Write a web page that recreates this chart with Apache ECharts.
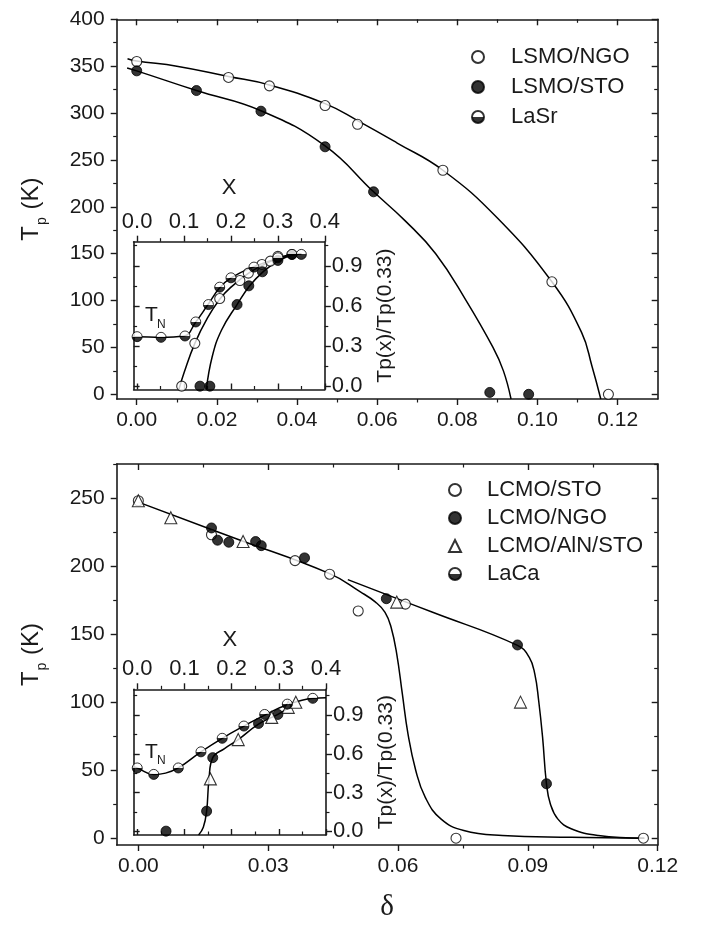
<!DOCTYPE html>
<html><head><meta charset="utf-8">
<script src="https://cdn.jsdelivr.net/npm/echarts@6/dist/echarts.min.js"></script>
<style>html,body{margin:0;padding:0;background:#fff}#c{width:702px;height:925px}</style>
</head><body><div id="c"></div>
<script>
// ---------- TOP PANEL (LSMO) ----------
const lsmoNgoDelta = [0, 0.0229, 0.0331, 0.047, 0.0551, 0.0764, 0.1036, 0.1177];
const lsmoNgoTp    = [355, 338, 329, 308, 288, 239, 120, 0];
const lsmoStoDelta = [0, 0.0149, 0.031, 0.047, 0.0591, 0.0881, 0.0978];
const lsmoStoTp    = [345, 324, 302, 264, 216, 2, 0];
const lsmoNgoFitDelta = [-0.0023, 0, 0.01, 0.0229, 0.0331, 0.047, 0.0551, 0.065, 0.0764, 0.09, 0.1036, 0.111, 0.1136, 0.1158];
const lsmoNgoFitTp    = [358, 355.5, 350, 339, 330, 310, 292, 268, 239, 188, 120, 66, 30, -5];
const lsmoStoFitDelta = [-0.0024, 0, 0.0149, 0.031, 0.047, 0.0591, 0.067, 0.0746, 0.0822, 0.0889, 0.0915, 0.0934];
const lsmoStoFitTp    = [348, 345, 324, 302.5, 265, 216, 185, 150, 100, 50, 25, -5];
// top inset (normalised Tp vs x)
const lasrX = [0, 0.051, 0.102, 0.125, 0.152, 0.176, 0.2, 0.249, 0.3, 0.33, 0.35];
const lasrY = [0.37, 0.365, 0.375, 0.48, 0.61, 0.74, 0.81, 0.89, 0.96, 0.985, 0.985];
const insNgoX = [0.095, 0.123, 0.176, 0.219, 0.237, 0.266, 0.284, 0.30];
const insNgoY = [0, 0.32, 0.655, 0.79, 0.845, 0.91, 0.935, 0.97];
const insStoX = [0.134, 0.155, 0.213, 0.238, 0.267, 0.30, 0.33];
const insStoY = [0, 0, 0.61, 0.75, 0.855, 0.94, 0.985];
const lasrFitX = [-0.01, 0, 0.05, 0.1, 0.125, 0.15, 0.176, 0.2, 0.25, 0.3, 0.35];
const lasrFitY = [0.37, 0.37, 0.365, 0.375, 0.48, 0.605, 0.735, 0.81, 0.895, 0.955, 0.99];
const insNgoFitX = [0.089, 0.1, 0.123, 0.15, 0.176, 0.2, 0.24, 0.28, 0.3, 0.33];
const insNgoFitY = [-0.025, 0.1, 0.32, 0.51, 0.65, 0.74, 0.85, 0.925, 0.96, 0.985];
const insStoFitX = [0.1475, 0.16, 0.18, 0.213, 0.24, 0.27, 0.3, 0.33, 0.35];
const insStoFitY = [-0.025, 0.22, 0.42, 0.61, 0.75, 0.86, 0.935, 0.98, 0.99];

// ---------- BOTTOM PANEL (LCMO) ----------
const lcmoStoDelta = [0, 0.0169, 0.0362, 0.0442, 0.0508, 0.0617, 0.0734, 0.1167];
const lcmoStoTp    = [248, 223, 204, 194, 167, 172, 0, 0];
const lcmoNgoDelta = [0.0169, 0.0183, 0.0209, 0.0271, 0.0284, 0.0384, 0.0573, 0.0876, 0.0943];
const lcmoNgoTp    = [228, 219, 217.5, 218, 215, 206, 176, 142, 40];
const lcmoAlnDelta = [0, 0.0075, 0.0242, 0.0597, 0.0883];
const lcmoAlnTp    = [248, 235.5, 218, 173.5, 100];
const fitADelta = [0, 0.022, 0.0442, 0.0513, 0.0548, 0.057, 0.0584, 0.0597, 0.061, 0.0623, 0.0641, 0.0663, 0.0699, 0.0752, 0.0841, 0.1, 0.1169];
const fitATp    = [247, 220.8, 194.4, 181, 173.5, 166, 155, 135.5, 106, 76.7, 49.8, 30, 14.2, 5.6, 2, 0.7, 0];
const fitBDelta = [0.0484, 0.068, 0.0876, 0.0903, 0.0916, 0.0925, 0.0934, 0.0943, 0.0952, 0.0969, 0.1, 0.1063, 0.1169];
const fitBTp    = [190, 166, 141.7, 133, 120.8, 101, 74.3, 40, 25.2, 14.2, 6.9, 2, 0];
// bottom inset
const lacaX = [0, 0.035, 0.087, 0.135, 0.18, 0.226, 0.27, 0.318, 0.372];
const lacaY = [0.49, 0.44, 0.49, 0.615, 0.72, 0.815, 0.905, 0.985, 1.03];
const insNgo2X = [0.061, 0.147, 0.16, 0.257, 0.298];
const insNgo2Y = [0, 0.155, 0.57, 0.835, 0.905];
const insAlnX = [0.155, 0.214, 0.285, 0.32, 0.336];
const insAlnY = [0.405, 0.71, 0.882, 0.96, 1.0];
const lacaFitX = [-0.01, 0, 0.035, 0.06, 0.087, 0.135, 0.18, 0.226, 0.27, 0.318, 0.372, 0.4];
const lacaFitY = [0.5, 0.49, 0.44, 0.45, 0.49, 0.615, 0.72, 0.815, 0.9, 0.98, 1.03, 1.035];
const insNgo2FitX = [0.13, 0.14, 0.147, 0.152, 0.16, 0.185, 0.214, 0.257, 0.3, 0.33];
const insNgo2FitY = [-0.03, 0.03, 0.155, 0.4, 0.57, 0.64, 0.71, 0.83, 0.91, 0.98];

// ---------- tick labels ----------
const topMainXTicks = [0, 0.02, 0.04, 0.06, 0.08, 0.10, 0.12];
const topMainXMinor = [0.01, 0.03, 0.05, 0.07, 0.09, 0.11];
const topMainYTicks = [0, 50, 100, 150, 200, 250, 300, 350, 400];
const topMainYMinor = [25, 75, 125, 175, 225, 275, 325, 375];
const botMainXTicks = [0, 0.03, 0.06, 0.09, 0.12];
const botMainXMinor = [0.015, 0.045, 0.075, 0.105];
const botMainYTicks = [0, 50, 100, 150, 200, 250];
const botMainYMinor = [25, 75, 125, 175, 225, 275];
const insetXTicks = [0, 0.1, 0.2, 0.3, 0.4];
const insetXMinor = [0.05, 0.15, 0.25, 0.35];
const insetYTicks = [0, 0.3, 0.6, 0.9];
const insetYMinor = [0.15, 0.45, 0.75, 1.05];

const FONT = '"Liberation Sans", Arial, Helvetica, sans-serif';
const INK = '#1a1a1a';
const zip = (a, b) => a.map((v, i) => [v, b[i]]);

const xAxes = [], yAxes = [];
function addAxes(arr, gi, min, max, pos, opp, major, minor, inLab, inOpp, label, extra) {
  const base = {type: 'value', gridIndex: gi, min: min, max: max, splitLine: {show: false}};
  const idx = arr.length;
  arr.push(Object.assign({}, base, {
    position: pos,
    axisLine: {show: true, onZero: false, lineStyle: {color: INK, width: 1.6}},
    axisTick: {show: true, inside: inLab, length: 6, customValues: major, lineStyle: {color: INK, width: 1.4}},
    axisLabel: Object.assign({show: true, customValues: major, color: INK, fontFamily: FONT}, label)
  }, extra || {}));
  arr.push(Object.assign({}, base, {
    position: pos, axisLine: {show: false, onZero: false},
    axisTick: {show: true, inside: inLab, length: 3.5, customValues: minor, lineStyle: {color: INK, width: 1.2}},
    axisLabel: {show: false}
  }));
  arr.push(Object.assign({}, base, {
    position: opp, axisLine: {show: true, onZero: false, lineStyle: {color: INK, width: 1.6}},
    axisTick: {show: true, inside: inOpp, length: 6, customValues: major, lineStyle: {color: INK, width: 1.4}},
    axisLabel: {show: false}
  }));
  arr.push(Object.assign({}, base, {
    position: opp, axisLine: {show: false, onZero: false},
    axisTick: {show: true, inside: inOpp, length: 3.5, customValues: minor, lineStyle: {color: INK, width: 1.2}},
    axisLabel: {show: false}
  }));
  return idx;
}

const grids = [
  {left: 116.7, top: 19.3, width: 541, height: 379.7},
  {left: 133.6, top: 241.7, width: 191.2, height: 147.8, show: true, backgroundColor: '#fff', borderWidth: 0},
  {left: 116.7, top: 464, width: 541, height: 381},
  {left: 133.7, top: 689.3, width: 192.3, height: 145.7, show: true, backgroundColor: '#fff', borderWidth: 0}
];

const tpName = {
  nameLocation: 'middle', nameRotate: 90, nameGap: 68,
  name: '{t|T}{s|p}{t| (K)}',
  nameTextStyle: {color: INK, fontFamily: FONT,
    rich: {t: {fontSize: 24, fontFamily: FONT, color: INK, lineHeight: 34, verticalAlign: 'middle'},
           s: {fontSize: 14, fontFamily: FONT, color: INK, lineHeight: 34, verticalAlign: 'bottom', padding: [0, 1, 0, 1]}}}
};
const ratioName = {
  nameLocation: 'middle', nameRotate: 90, nameGap: 50, name: 'Tp(x)/Tp(0.33)',
  nameTextStyle: {color: INK, fontFamily: FONT, fontSize: 21}
};

// grid 0
const gx0 = addAxes(xAxes, 0, -0.005, 0.13, 'bottom', 'top', topMainXTicks, topMainXMinor, false, true,
  {fontSize: 21, margin: 11, formatter: v => v.toFixed(2)});
const gy0 = addAxes(yAxes, 0, -5, 400, 'left', 'right', topMainYTicks, topMainYMinor, false, true,
  {fontSize: 21, margin: 12, formatter: v => String(Math.round(v))}, tpName);
// grid 1 (inset)
const gx1 = addAxes(xAxes, 1, -0.0075, 0.4, 'top', 'bottom', insetXTicks, insetXMinor, false, true,
  {fontSize: 22, margin: 9, formatter: v => v.toFixed(1)},
  {name: 'X', nameLocation: 'middle', nameGap: 43, nameTextStyle: {color: INK, fontFamily: FONT, fontSize: 22}});
const gy1 = addAxes(yAxes, 1, -0.025, 1.08, 'right', 'left', insetYTicks, insetYMinor, false, true,
  {fontSize: 22, margin: 7, formatter: v => v.toFixed(1)}, ratioName);
// grid 2
const gx2 = addAxes(xAxes, 2, -0.005, 0.12, 'bottom', 'top', botMainXTicks, botMainXMinor, false, true,
  {fontSize: 21, margin: 11, formatter: v => v.toFixed(2)},
  {name: 'δ', nameLocation: 'middle', nameGap: 48, nameTextStyle: {color: INK, fontFamily: '"Liberation Serif", "DejaVu Serif", serif', fontSize: 29}});
const gy2 = addAxes(yAxes, 2, -5, 275, 'left', 'right', botMainYTicks, botMainYMinor, false, true,
  {fontSize: 21, margin: 12, formatter: v => String(Math.round(v))}, tpName);
// grid 3 (inset)
const gx3 = addAxes(xAxes, 3, -0.0075, 0.4, 'top', 'bottom', insetXTicks, insetXMinor, false, true,
  {fontSize: 22, margin: 9, formatter: v => v.toFixed(1)},
  {name: 'X', nameLocation: 'middle', nameGap: 38, nameTextStyle: {color: INK, fontFamily: FONT, fontSize: 22}});
const gy3 = addAxes(yAxes, 3, -0.03, 1.1, 'right', 'left', insetYTicks, insetYMinor, false, true,
  {fontSize: 22, margin: 7, formatter: v => v.toFixed(1)}, ratioName);

const halfFill = {type: 'linear', x: 0, y: 0, x2: 0, y2: 1, colorStops: [
  {offset: 0, color: '#fff'}, {offset: 0.5, color: '#fff'}, {offset: 0.5, color: '#000'}, {offset: 1, color: '#000'}]};
const openStyle = {color: '#fff', borderColor: '#000', borderWidth: 1.1};
const fillStyle = {color: '#000', borderColor: '#000', borderWidth: 1};
const halfStyle = {color: halfFill, borderColor: '#000', borderWidth: 1};

function sc(name, xi, yi, xs, ys, style, symbol, size) {
  return {type: 'scatter', name: name, xAxisIndex: xi, yAxisIndex: yi, data: zip(xs, ys),
    symbol: symbol || 'circle', symbolSize: size || 10, itemStyle: style, z: 4, silent: true};
}
function ln(xi, yi, xs, ys) {
  return {type: 'line', xAxisIndex: xi, yAxisIndex: yi, data: zip(xs, ys), smooth: 0.45,
    showSymbol: false, symbol: 'none', lineStyle: {color: '#000', width: 1.5}, z: 3, silent: true};
}

const series = [
  ln(gx0, gy0, lsmoNgoFitDelta, lsmoNgoFitTp),
  ln(gx0, gy0, lsmoStoFitDelta, lsmoStoFitTp),
  sc('LSMO/NGO', gx0, gy0, lsmoNgoDelta, lsmoNgoTp, openStyle),
  sc('LSMO/STO', gx0, gy0, lsmoStoDelta, lsmoStoTp, fillStyle),
  ln(gx1, gy1, lasrFitX, lasrFitY),
  ln(gx1, gy1, insNgoFitX, insNgoFitY),
  ln(gx1, gy1, insStoFitX, insStoFitY),
  sc('LSMO/NGO', gx1, gy1, insNgoX, insNgoY, openStyle),
  sc('LSMO/STO', gx1, gy1, insStoX, insStoY, fillStyle),
  sc('LaSr', gx1, gy1, lasrX, lasrY, halfStyle),
  ln(gx2, gy2, fitADelta, fitATp),
  ln(gx2, gy2, fitBDelta, fitBTp),
  sc('LCMO/STO', gx2, gy2, lcmoStoDelta, lcmoStoTp, openStyle),
  sc('LCMO/NGO', gx2, gy2, lcmoNgoDelta, lcmoNgoTp, fillStyle),
  sc('LCMO/AlN/STO', gx2, gy2, lcmoAlnDelta, lcmoAlnTp, openStyle, 'triangle', 12),
  ln(gx3, gy3, lacaFitX, lacaFitY),
  ln(gx3, gy3, insNgo2FitX, insNgo2FitY),
  sc('LCMO/NGO', gx3, gy3, insNgo2X, insNgo2Y, fillStyle),
  sc('LCMO/AlN/STO', gx3, gy3, insAlnX, insAlnY, openStyle, 'triangle', 12),
  sc('LaCa', gx3, gy3, lacaX, lacaY, halfStyle)
];

const legendTop = {fontSize: 22, fontFamily: FONT, color: INK, lineHeight: 22, padding: [0, 0, 0, 22]};
const legendBot = {fontSize: 22, fontFamily: FONT, color: INK, lineHeight: 22, padding: [0, 0, 0, 21]};
const option = {
  backgroundColor: '#fff',
  animation: false,
  grid: grids,
  xAxis: xAxes,
  yAxis: yAxes,
  legend: [
    {data: ['LSMO/NGO', 'LSMO/STO', 'LaSr'], orient: 'vertical', left: 466, top: 41, itemWidth: 12, itemHeight: 12,
     itemGap: 8, selectedMode: false, textStyle: legendTop},
    {data: ['LCMO/STO', 'LCMO/NGO', 'LCMO/AlN/STO', 'LaCa'], orient: 'vertical', left: 443, top: 474, itemWidth: 12, itemHeight: 12,
     itemGap: 6, selectedMode: false, textStyle: legendBot}
  ],
  graphic: [
    {type: 'text', x: 145, y: 305, style: {text: 'T', font: '21px ' + FONT, fill: INK}},
    {type: 'text', x: 157, y: 319, style: {text: 'N', font: '12px ' + FONT, fill: INK}},
    {type: 'text', x: 145, y: 742, style: {text: 'T', font: '21px ' + FONT, fill: INK}},
    {type: 'text', x: 157, y: 755, style: {text: 'N', font: '12px ' + FONT, fill: INK}}
  ],
  series: series
};
const chart = echarts.init(document.getElementById('c'), null, {renderer: 'canvas'});
chart.setOption(option);
</script>
</body></html>
